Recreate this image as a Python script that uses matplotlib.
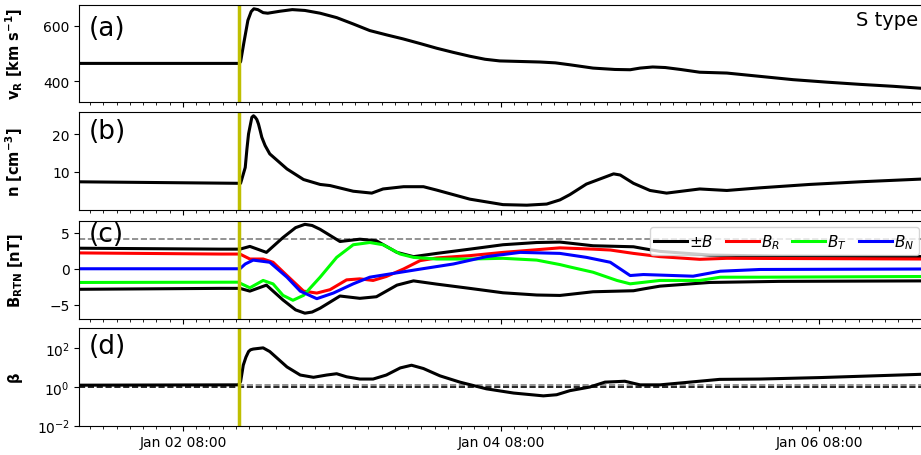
import numpy as np
import pandas as pd
import matplotlib
matplotlib.use("Agg")
import matplotlib.pyplot as plt
import matplotlib.dates as mdates

# times are hours relative to Jan 02 08:00
t_ref = pd.Timestamp("2022-01-02 08:00")
t_shock = 8.45  # yellow line

v_hours = [-16, 8.45, 8.7, 9.2, 9.8, 10.3, 10.7, 11.3, 12.1, 12.8, 14.6, 16.5, 18.4, 20.7, 23.2, 25.7,
           28.2, 30.8, 33.2, 35.8, 38.3, 40.8, 43.3, 45.6, 47.8, 50.9, 53.9, 56.2, 58.4, 61.9, 65.2,
           67.5, 69.0, 70.9, 72.8, 75.1, 78.0, 82.1, 87.1, 92.1, 97.2, 102.2, 107.2, 112.5]
v_vals = [464, 464, 470, 540, 620, 652, 662, 659, 648, 646, 653, 659, 656, 646, 630, 607,
          583, 567, 553, 536, 519, 504, 490, 479, 473, 471, 469, 466, 459, 447, 442,
          441, 447, 451, 449, 442, 432, 429, 417, 405, 396, 388, 381, 372]

n_hours = [-16, 8.45, 8.7, 9.4, 9.65, 9.9, 10.4, 10.65, 10.9, 11.15, 11.4, 11.65, 11.9, 12.4, 13.1,
           15.7, 18.2, 20.7, 22.2, 25.7, 28.5, 30.2, 33.3, 36.3, 38.3, 43.3, 48.3, 51.9, 54.9,
           56.9, 58.4, 60.9, 65.0, 66.0, 68.0, 70.5, 73.0, 78.0, 82.1, 87.1, 94.6, 102.2, 112.5]
n_vals = [7.4, 7.0, 7.0, 11.2, 16.0, 20.1, 24.5, 24.9, 24.5, 23.9, 22.7, 21.0, 19.2, 17.0, 14.8,
          10.8, 8.0, 6.7, 6.4, 4.9, 4.4, 5.5, 6.1, 6.1, 5.2, 2.8, 1.35, 1.2, 1.5,
          2.6, 4.0, 6.8, 9.5, 9.2, 7.0, 5.1, 4.4, 5.5, 5.1, 5.8, 6.7, 7.4, 8.2]

b_hours = [-16, 5.6, 8.6, 10.1, 12.6, 15.1, 17.0, 18.4, 19.5, 20.7, 23.7, 26.7, 29.2, 32.3, 34.8,
           38.3, 43.3, 48.3, 53.4, 56.9, 58.4, 61.9, 68.0, 69.5, 72.0, 79.5, 90.0, 112.5]
b_vals = [2.85, 2.72, 2.72, 3.1, 2.27, 4.33, 5.7, 6.16, 6.0, 5.47, 3.78, 4.1, 3.88, 2.27, 1.68,
          2.13, 2.72, 3.33, 3.64, 3.7, 3.55, 3.19, 3.05, 2.8, 2.41, 1.9, 1.75, 1.68]

br_hours = [-16, 5.6, 8.6, 10.1, 12.1, 13.6, 15.7, 18.2, 20.2, 22.2, 24.7, 26.7, 28.7, 30.7,
            33.3, 35.8, 38.3, 43.3, 48.3, 53.4, 56.9, 61.9, 64.5, 68.0, 72.0, 78.0, 82.1, 112.5]
br_vals = [2.2, 2.04, 2.04, 1.35, 1.35, 0.9, -0.94, -3.1, -3.37, -2.9, -1.54, -1.4, -1.62, -1.07,
           -0.03, 1.13, 1.5, 1.82, 2.27, 2.64, 2.9, 2.72, 2.6, 2.13, 1.68, 1.31, 1.45, 1.35]

bt_hours = [-16, 8.3, 10.1, 12.1, 13.6, 15.1, 16.6, 18.2, 20.7, 23.2, 25.7, 28.2, 30.2, 32.8,
            34.8, 38.3, 43.3, 48.3, 53.4, 56.9, 58.4, 61.9, 65.5, 67.5, 72.0, 78.0, 81.1, 87.1, 112.5]
bt_vals = [-1.9, -1.86, -2.64, -1.62, -2.1, -3.69, -4.37, -3.69, -1.17, 1.58, 3.33, 3.64, 3.33, 2.04,
           1.58, 1.35, 1.35, 1.45, 1.2, 0.58, 0.25, -0.48, -1.62, -2.09, -1.62, -1.62, -1.17, -1.17, -1.07]

bn_hours = [-16, 8.6, 9.4, 10.6, 13.1, 15.7, 17.7, 20.2, 22.7, 25.7, 28.2, 30.7, 35.8, 40.8,
            45.8, 50.9, 56.9, 60.9, 64.5, 67.5, 69.5, 77.0, 81.1, 87.1, 112.5]
bn_vals = [0, 0, 0.66, 1.2, 0.9, -1.17, -3.1, -4.15, -3.37, -2.09, -1.17, -0.8, -0.05, 0.66,
           1.68, 2.27, 2.13, 1.58, 0.9, -0.94, -0.8, -1.03, -0.34, -0.1, -0.03]

beta_hours = [-16, 8.35, 8.7, 8.9, 9.1, 9.5, 9.9, 10.2, 10.6, 12.1, 13.1, 15.7, 17.7, 19.7, 21.7,
              23.2, 24.7, 26.7, 28.7, 30.7, 32.8, 34.5, 36.3, 38.8, 41.8, 45.8, 49.9, 54.4, 56.4,
              58.4, 61.4, 63.7, 66.7, 69.0, 72.0, 76.5, 81.0, 87.1, 96.2, 105.2, 112.5]
beta_vals = [1.25, 1.3, 1.9, 5.0, 13.5, 35, 69, 85, 93, 107, 69, 11, 4.2, 3.2, 4.2,
             4.9, 3.4, 2.6, 2.6, 4.2, 9.8, 13.5, 9.1, 3.8, 1.8, 0.81, 0.49, 0.35, 0.40,
             0.65, 1.0, 1.8, 2.0, 1.3, 1.3, 1.8, 2.5, 2.6, 3.1, 3.9, 4.7]

b_ref = 4.1      # grey dashed line in panel (c)
beta_ref = 1.25  # grey dashed line in panel (d)


def to_time(hours):
    return t_ref + pd.to_timedelta(np.array(hours, dtype=float), unit="h")


fig = plt.figure(figsize=(9.21, 4.56), dpi=100)
left, width, height = 0.0863, 0.918, 0.2135
bottoms = [0.7741, 0.5379, 0.2993, 0.0643]
axes = [fig.add_axes([left, b, width, height]) for b in bottoms]
ax_v, ax_n, ax_b, ax_beta = axes

lw = 2.2
ax_v.plot(to_time(v_hours), v_vals, color="k", lw=lw)
ax_n.plot(to_time(n_hours), n_vals, color="k", lw=lw)

ax_b.axhline(b_ref, color="gray", ls="--", lw=1.2)
ax_b.plot(to_time(b_hours), b_vals, color="k", lw=lw, label=r"$\pm B$")
ax_b.plot(to_time(b_hours), -np.array(b_vals), color="k", lw=lw)
ax_b.plot(to_time(br_hours), br_vals, color="red", lw=lw, label=r"$B_R$")
ax_b.plot(to_time(bt_hours), bt_vals, color="lime", lw=lw, label=r"$B_T$")
ax_b.plot(to_time(bn_hours), bn_vals, color="blue", lw=lw, label=r"$B_N$")
ax_b.legend(loc="upper right", ncol=4, fontsize=11, handlelength=2.15,
            borderpad=0.3, borderaxespad=0.4, columnspacing=0.8, handletextpad=0.15)

ax_beta.axhline(beta_ref, color="gray", ls="--", lw=1.2)
ax_beta.axhline(1.0, color="k", ls="--", lw=1.2)
ax_beta.plot(to_time(beta_hours), beta_vals, color="k", lw=lw)
ax_beta.set_yscale("log")
ax_beta.set_ylim(1e-2, 1.1e3)
ax_beta.set_yticks([1e-2, 1, 1e2])
ax_beta.yaxis.set_minor_locator(matplotlib.ticker.NullLocator())

ax_v.set_ylim(324, 677)
ax_v.set_yticks([400, 600])
ax_n.set_ylim(0, 25.8)
ax_n.set_yticks([10, 20])
ax_b.set_ylim(-6.9, 6.6)
ax_b.set_yticks([-5, 0, 5])

ylabels = [r"$\mathbf{v_R}$ [km s$^{\mathbf{-1}}$]", r"n [cm$^{\mathbf{-3}}$]",
           r"$\mathbf{B_{RTN}}$ [nT]", r"$\mathbf{\beta}$"]
panel_tags = ["(a)", "(b)", "(c)", "(d)"]
tag_y = [0.89, 0.94, 1.0, 0.95]

xlo = to_time([-15.62])[0]
xhi = to_time([112.0])[0]
for ax, lab, tag, ty in zip(axes, ylabels, panel_tags, tag_y):
    ax.axvline(to_time([t_shock])[0], color="y", lw=2.5)
    ax.set_xlim(xlo, xhi)
    ax.set_ylabel(lab, fontweight="bold", fontsize=10.5)
    ax.yaxis.set_label_coords(-0.065, 0.5)
    ax.text(0.011, ty, tag, transform=ax.transAxes, fontsize=19, ha="left", va="top")
    ax.set_xticks(to_time([0, 48, 96]))
    ax.xaxis.set_minor_locator(mdates.HourLocator(interval=2))
    ax.xaxis.set_major_formatter(mdates.DateFormatter("%b %d %H:%M"))
    if ax is not ax_beta:
        ax.tick_params(axis="x", labelbottom=False)

ax_v.text(0.992, 0.95, "S type", transform=ax_v.transAxes, fontsize=14, ha="right", va="top")

fig.savefig("out.png", dpi=100)
